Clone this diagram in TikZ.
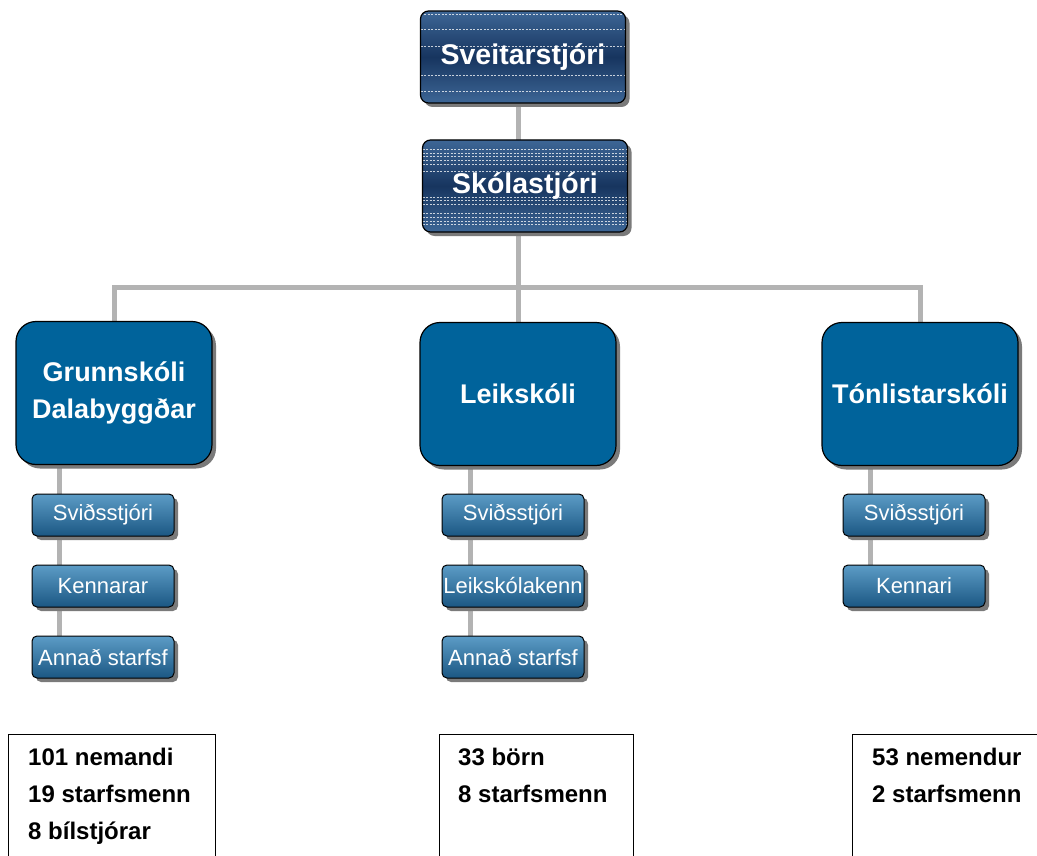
\documentclass[tikz,border=0pt]{standalone}
\usepackage{fontspec}
\setmainfont{Liberation Sans}
\usetikzlibrary{shadows,backgrounds,calc}
\definecolor{navyA}{HTML}{3D6696}
\definecolor{navyB}{HTML}{17355F}
\definecolor{midblue}{HTML}{00639B}
\definecolor{subtop}{HTML}{5C9CC6}
\definecolor{subbot}{HTML}{1B5783}
\definecolor{connc}{HTML}{B3B3B3}
\definecolor{shadowgray}{HTML}{7A7A7A}
\begin{document}
\begin{tikzpicture}[x=1pt,y=-1pt,
  myshadow/.style={drop shadow={shadow xshift=4pt, shadow yshift=-4pt, fill=shadowgray, opacity=1}},
  topbox/.style={draw=black, line width=1.2pt, rounded corners=8pt,
    minimum width=205pt, minimum height=92pt, inner sep=0pt,
    top color=navyA, bottom color=navyA, middle color=navyB, myshadow,
    text=white, font=\bfseries\fontsize{28.5}{32}\selectfont,
    path picture={\foreach \f in {#1} {\draw[white, opacity=0.75, line width=0.7pt, dash pattern=on 2pt off 1.5pt]
      ($(path picture bounding box.north west)!\f!(path picture bounding box.south west)$) --
      ($(path picture bounding box.north east)!\f!(path picture bounding box.south east)$);}}},
  midbox/.style={draw=black, line width=1.2pt, rounded corners=20pt,
    minimum width=196pt, minimum height=143pt, fill=midblue, myshadow,
    text=white, align=center, font=\bfseries\fontsize{27}{37}\selectfont},
  subbox/.style={draw=black, line width=1pt, rounded corners=5pt,
    minimum width=142pt, minimum height=42pt, inner xsep=1pt,
    top color=subtop, bottom color=subbot, myshadow,
    text=white, font=\fontsize{22}{25}\selectfont},
  infobox/.style={draw=black, line width=1.3pt, anchor=north west, inner sep=0pt, minimum height=150pt},
  infotext/.style={anchor=north west, align=left, inner sep=0pt, font=\bfseries\fontsize{24}{37}\selectfont},
  connector/.style={draw=connc, line width=5pt}
]
\useasboundingbox (0,0) rectangle (1037,856);
\clip (0,0) rectangle (1037,856);

\node[topbox={0.04,0.2,0.38,0.7,0.87}] (sveit) at (523,57) {Sveitarstjóri};
\node[topbox={0.1,0.14,0.18,0.22,0.26,0.34,0.62,0.66,0.7,0.8,0.84,0.88,0.92}] (skola) at (525,186) {Skólastjóri};

\node[midbox] (grunn) at (114,393) {Grunnskóli\\Dalabyggðar};
\node[midbox] (leik) at (518,394) {Leikskóli};
\node[midbox] (ton) at (920,394) {Tónlistarskóli};

\node[subbox] (g1) at (103,515) {Sviðsstjóri};
\node[subbox] (g2) at (103,586) {Kennarar};
\node[subbox] (g3) at (103,657) {Annað starfsf};
\node[subbox] (l1) at (513,515) {Sviðsstjóri};
\node[subbox] (l2) at (513,586) {Leikskólakenn};
\node[subbox] (l3) at (513,657) {Annað starfsf};
\node[subbox] (t1) at (914,515) {Sviðsstjóri};
\node[subbox] (t2) at (914,586) {Kennari};

\node[infobox, minimum width=207pt] (i1) at (8,734) {};
\node[infobox, minimum width=194pt] (i2) at (439,734) {};
\node[infobox, minimum width=220pt] (i3) at (852,734) {};
\node[infotext] (i1t) at (28,748) {101 nemandi\\19 starfsmenn\\8 bílstjórar};
\node[infotext] (i2t) at (458,748) {33 börn\\8 starfsmenn};
\node[infotext] (i3t) at (872,748) {53 nemendur\\2 starfsmenn};

\begin{scope}[on background layer]
  \draw[connector] (sveit.south -| leik.north) -- (leik.north);
  \coordinate (bus) at (0,287);
  \draw[connector] (grunn.north) -- (grunn.north |- bus) -- (ton.north |- bus) -- (ton.north);
  \coordinate (gx) at ([xshift=-44pt]g1.center);
  \draw[connector] (gx |- grunn.south) -- (gx |- g3.center);
  \coordinate (lx) at ([xshift=-43pt]l1.center);
  \draw[connector] (lx |- leik.south) -- (lx |- l3.center);
  \coordinate (tx) at ([xshift=-44pt]t1.center);
  \draw[connector] (tx |- ton.south) -- (tx |- t2.center);
\end{scope}
\end{tikzpicture}
\end{document}
